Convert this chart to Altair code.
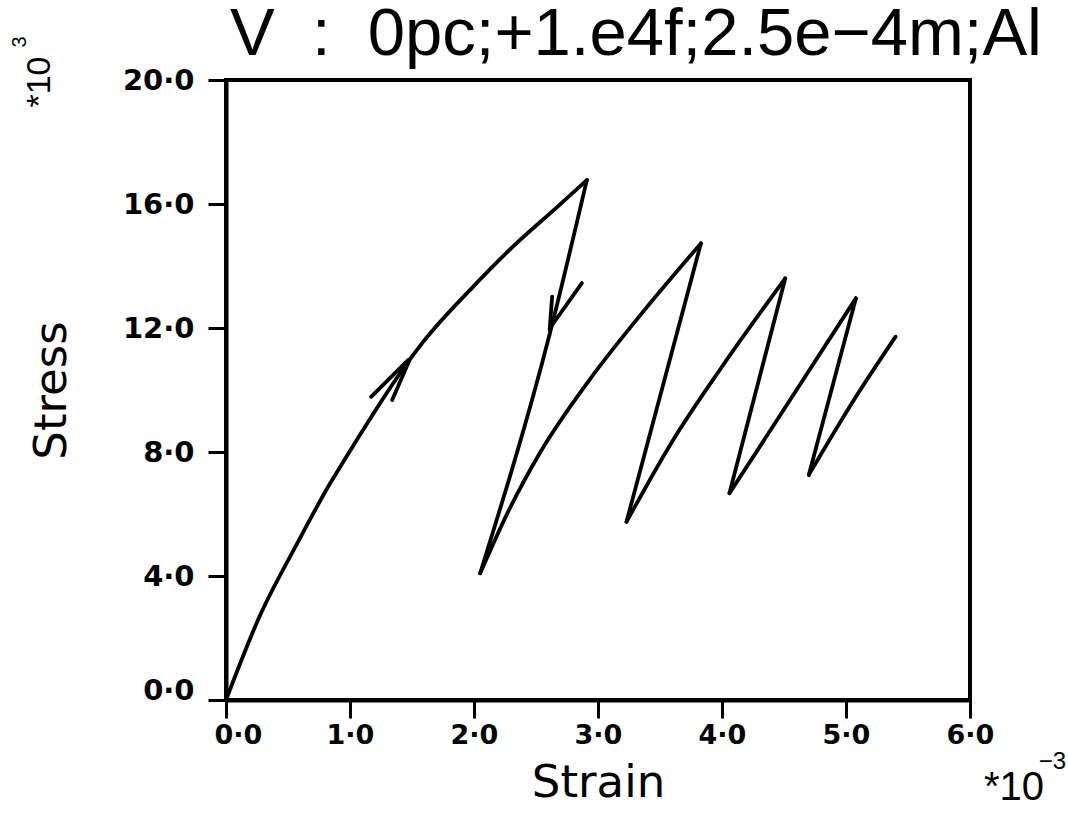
import altair as alt
import pandas as pd

# Stress-strain branches (strain in 1e-3, stress in 1e3)
load1_x = [0.00, 0.27, 0.57, 0.84, 0.97, 1.48, 1.59, 1.99, 2.31, 2.67, 2.91]
load1_y = [0.00, 2.69, 5.02, 6.99, 7.84, 10.97, 11.55, 13.32, 14.61, 15.90, 16.77]
unload1_x = [2.91, 2.61, 2.05]
unload1_y = [16.77, 11.80, 4.09]
load2_x = [2.05, 2.26, 2.53, 2.93, 3.33, 3.83]
load2_y = [4.09, 5.95, 7.96, 10.32, 12.36, 14.73]
unload2_x = [3.83, 3.23]
unload2_y = [14.73, 5.75]
load3_x = [3.23, 3.60, 4.00, 4.51]
load3_y = [5.75, 8.35, 10.75, 13.60]
unload3_x = [4.51, 4.06]
unload3_y = [13.60, 6.67]
load4_x = [4.06, 4.41, 5.08]
load4_y = [6.67, 8.82, 12.96]
unload4_x = [5.08, 4.70]
unload4_y = [12.96, 7.26]
load5_x = [4.70, 5.08, 5.40]
load5_y = [7.26, 9.78, 11.72]

# Arrow barbs (start -> tip)
arrow_ids = ["a1", "a1", "a2", "a2", "b1", "b1", "b2", "b2"]
arrow_x = [1.17, 1.47, 1.34, 1.48, 2.63, 2.61, 2.87, 2.62]
arrow_y = [9.78, 10.97, 9.68, 10.97, 13.01, 11.94, 13.45, 12.04]

x_ticks = [0, 1, 2, 3, 4, 5, 6]
y_ticks = [0, 4, 8, 12, 16, 20]

title_text = "V\u00a0\u00a0:\u00a0\u00a00pc;+1.e4f;2.5e\u22124m;Al"

branches = {
    "load1": (load1_x, load1_y), "unload1": (unload1_x, unload1_y),
    "load2": (load2_x, load2_y), "unload2": (unload2_x, unload2_y),
    "load3": (load3_x, load3_y), "unload3": (unload3_x, unload3_y),
    "load4": (load4_x, load4_y), "unload4": (unload4_x, unload4_y),
    "load5": (load5_x, load5_y),
}
rows = []
for name, (xs, ys) in branches.items():
    for i, (x, y) in enumerate(zip(xs, ys)):
        rows.append({"seg": name, "ord": i, "strain": x, "stress": y})
for i, (s, x, y) in enumerate(zip(arrow_ids, arrow_x, arrow_y)):
    rows.append({"seg": s, "ord": i, "strain": x, "stress": y})
df = pd.DataFrame(rows)

label_expr = "replace(format(datum.value, '.1f'), '.', '\u00b7')"

x_enc = alt.X(
    "strain:Q",
    scale=alt.Scale(domain=[0, 6], nice=False, zero=False),
    axis=alt.Axis(
        values=x_ticks, title="Strain", labelExpr=label_expr, grid=False, labelFlush=False,
        domainColor="black", domainWidth=4, tickColor="black", tickWidth=3, tickSize=18,
        labelFont="DejaVu Sans", labelFontSize=27, labelFontWeight="bold", labelColor="black",
        labelPadding=4, labelOffset={"condition": {"test": "datum.value == 0", "value": 12}, "value": 0},
        titleFont="DejaVu Sans", titleFontSize=45, titleFontWeight="normal", titleColor="black",
        titlePadding=12,
    ),
)
y_enc = alt.Y(
    "stress:Q",
    scale=alt.Scale(domain=[0, 20], nice=False, zero=False),
    axis=alt.Axis(
        values=y_ticks, title="Stress", labelExpr=label_expr, grid=False, labelFlush=False,
        domainColor="black", domainWidth=4, tickColor="black", tickWidth=3, tickSize=18,
        labelFont="DejaVu Sans", labelFontSize=29, labelFontWeight="bold", labelColor="black",
        labelPadding=14, labelOffset={"condition": {"test": "datum.value == 0", "value": -10}, "value": 0},
        titleFont="DejaVu Sans", titleFontSize=45, titleFontWeight="normal", titleColor="black",
        titlePadding=48,
    ),
)

lines = alt.Chart(df).mark_line(
    color="black", strokeWidth=3.8, strokeJoin="round", strokeCap="round", interpolate="monotone"
).encode(x=x_enc, y=y_enc, detail="seg:N", order="ord:Q")

exp_x = alt.Chart(pd.DataFrame({"t": ["*10"]})).mark_text(
    font="Liberation Sans", fontSize=40, color="black", align="right", baseline="middle"
).encode(x=alt.value(818), y=alt.value(708), text="t:N")
exp_x_sup = alt.Chart(pd.DataFrame({"t": ["\u22123"]})).mark_text(
    font="Liberation Sans", fontSize=24, color="black", align="right", baseline="middle"
).encode(x=alt.value(840), y=alt.value(682), text="t:N")
exp_y = alt.Chart(pd.DataFrame({"t": ["*10"]})).mark_text(
    font="Liberation Sans", fontSize=34, color="black", align="center", baseline="middle", angle=270
).encode(x=alt.value(-186), y=alt.value(2), text="t:N")
exp_y_sup = alt.Chart(pd.DataFrame({"t": ["3"]})).mark_text(
    font="Liberation Sans", fontSize=20, color="black", align="center", baseline="middle", angle=270
).encode(x=alt.value(-206), y=alt.value(-38), text="t:N")

chart = alt.layer(lines, exp_x, exp_x_sup, exp_y, exp_y_sup).properties(
    width=744, height=620,
    autosize=alt.AutoSizeParams(type="none"),
    padding={"left": 226, "top": 80, "right": 98, "bottom": 113},
    title=alt.TitleParams(
        text=title_text, anchor="start", frame="group", font="Liberation Sans", fontSize=67,
        fontWeight="normal", color="black", offset=0, dy=33, dx=4,
    ),
).configure(background="white").configure_view(stroke="black", strokeWidth=4)

chart.save("out.html", embed_options={"renderer": "svg", "actions": False})
